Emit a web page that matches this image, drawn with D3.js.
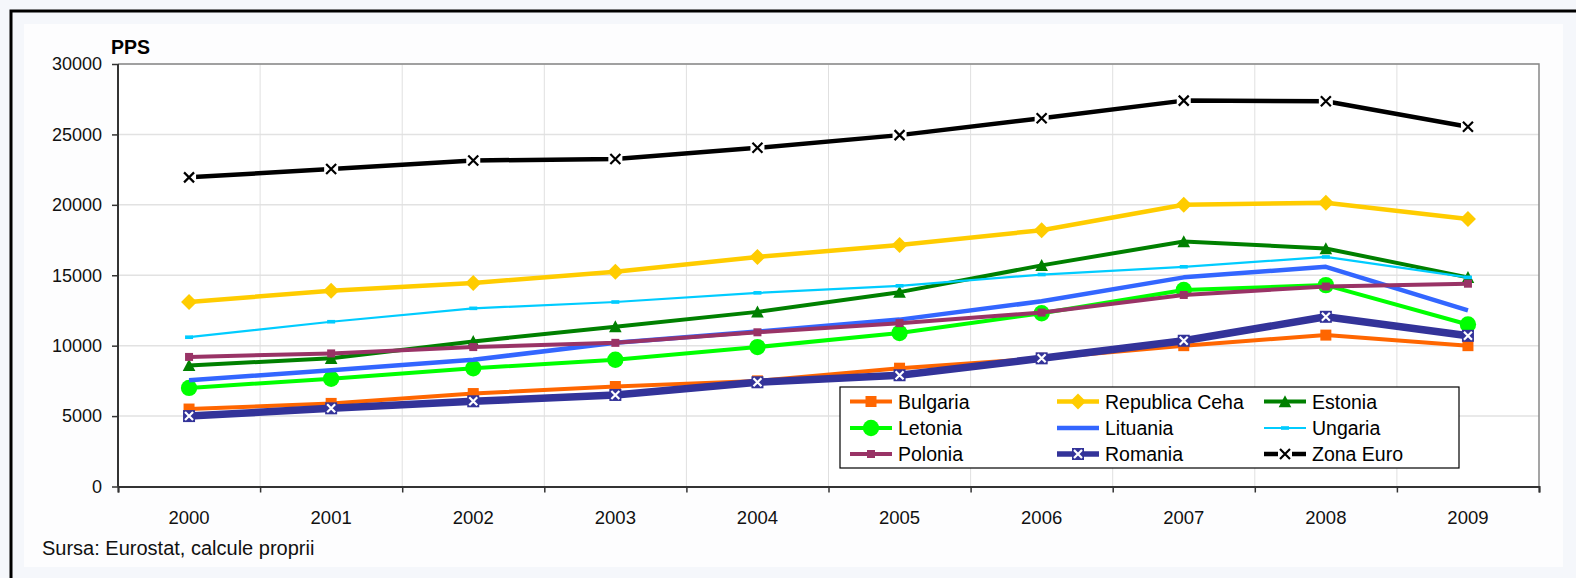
<!DOCTYPE html>
<html>
<head>
<meta charset="utf-8">
<script src="https://cdn.jsdelivr.net/npm/d3@7"></script>
<style>
  body { margin: 0; background: #f5f7fb; }
  svg { display: block; font-family: "Liberation Sans", Arial, sans-serif; }
</style>
</head>
<body>
<div id="chart"></div>
<script>
// Data (GDP per capita, PPS)
const years = ['2000', '2001', '2002', '2003', '2004', '2005', '2006', '2007', '2008', '2009']
const yTicks = [0, 5000, 10000, 15000, 20000, 25000, 30000]

const bulgaria = [5500, 5900, 6600, 7100, 7500, 8400, 9100, 10000, 10750, 10000]
const cehia = [13100, 13900, 14450, 15250, 16300, 17150, 18200, 20000, 20150, 19000]
const estonia = [8600, 9100, 10300, 11350, 12400, 13800, 15700, 17400, 16900, 14850]
const letonia = [7000, 7650, 8400, 9000, 9900, 10900, 12300, 13950, 14300, 11500]
const lituania = [7550, 8250, 9000, 10200, 11000, 11850, 13150, 14850, 15600, 12500]
const ungaria = [10600, 11700, 12650, 13100, 13750, 14250, 15050, 15600, 16300, 14850]
const polonia = [9200, 9450, 9900, 10200, 10950, 11600, 12350, 13600, 14200, 14400]
const romania = [5000, 5550, 6050, 6500, 7400, 7900, 9100, 10350, 12050, 10700]
const zonaEuro = [21950, 22550, 23150, 23250, 24050, 24950, 26150, 27400, 27350, 25550]

const names = ['Bulgaria', 'Republica Ceha', 'Estonia', 'Letonia', 'Lituania', 'Ungaria', 'Polonia', 'Romania', 'Zona Euro']

// custom marker shapes
const sq = { draw (c, s) { const h = Math.sqrt(s) / 2; c.rect(-h, -h, 2 * h, 2 * h) } }
const diamond = { draw (c, s) { const h = Math.sqrt(s) / 2; c.moveTo(0, -h); c.lineTo(h, 0); c.lineTo(0, h); c.lineTo(-h, 0); c.closePath() } }
const tri = { draw (c, s) { const h = Math.sqrt(s) / 2; c.moveTo(0, -h); c.lineTo(h, h * 0.9); c.lineTo(-h, h * 0.9); c.closePath() } }
const dash = { draw (c, s) { const h = Math.sqrt(s) / 2; c.rect(-h, -h / 2.2, 2 * h, h / 1.1) } }
const cross = { draw (c, s) { const h = Math.sqrt(s) / 2; c.moveTo(-h, -h); c.lineTo(h, h); c.moveTo(h, -h); c.lineTo(-h, h) } }

const series = [
  { name: names[0], values: bulgaria, color: '#ff6600', w: 4, shape: sq, size: 121 },
  { name: names[1], values: cehia, color: '#ffcc00', w: 4.5, shape: diamond, size: 256 },
  { name: names[2], values: estonia, color: '#008000', w: 4, shape: tri, size: 160 },
  { name: names[3], values: letonia, color: '#00ff00', w: 4, shape: d3.symbolCircle, size: 210 },
  { name: names[4], values: lituania, color: '#3366ff', w: 4.5, shape: null },
  { name: names[5], values: ungaria, color: '#00ccff', w: 2.2, shape: dash, size: 64 },
  { name: names[6], values: polonia, color: '#993366', w: 4, shape: sq, size: 64 },
  { name: names[7], values: romania, color: '#333399', w: 7.5, shape: 'romania' },
  { name: names[8], values: zonaEuro, color: '#000000', w: 4.5, shape: 'euro' }
]

const width = 1576, height = 578
const plot = { left: 118, right: 1539, top: 64, bottom: 486.5 }

const svg = d3.select('#chart').append('svg')
  .attr('width', width)
  .attr('height', height)

// frame + panel
svg.append('rect').attr('x', 0).attr('y', 0).attr('width', width).attr('height', height).attr('fill', '#f5f7fb')
svg.append('rect').attr('x', 24).attr('y', 24).attr('width', 1539).attr('height', 543).attr('fill', '#fdfdfe')
svg.append('path').attr('d', 'M11,600 V11 H1600').attr('fill', 'none').attr('stroke', '#000').attr('stroke-width', 3)

const x = d3.scaleBand().domain(years).range([plot.left, plot.right])
const xPos = d => x(d) + x.bandwidth() / 2
const xEdge = d3.scaleLinear().domain([0, years.length]).range([plot.left, plot.right])
const y = d3.scaleLinear().domain([0, 30000]).range([plot.bottom, plot.top])

svg.append('rect')
  .attr('x', plot.left).attr('y', plot.top)
  .attr('width', plot.right - plot.left).attr('height', plot.bottom - plot.top)
  .attr('fill', '#fff')

// grid
svg.append('g').selectAll('line').data(yTicks.slice(1)).enter().append('line')
  .attr('x1', plot.left).attr('x2', plot.right)
  .attr('y1', d => y(d)).attr('y2', d => y(d))
  .attr('stroke', '#e2e2e2').attr('stroke-width', 1.5)
svg.append('g').selectAll('line').data(d3.range(1, years.length)).enter().append('line')
  .attr('x1', d => xEdge(d)).attr('x2', d => xEdge(d))
  .attr('y1', plot.top).attr('y2', plot.bottom)
  .attr('stroke', '#e0e0e0').attr('stroke-width', 1)

// plot border (top/right)
svg.append('path')
  .attr('d', `M${plot.left},${plot.top} H${plot.right} V${plot.bottom}`)
  .attr('fill', 'none').attr('stroke', '#888').attr('stroke-width', 1.5)

// axes
const yAxis = d3.axisLeft(y).tickValues(yTicks).tickSize(6).tickPadding(10).tickFormat(d3.format('d'))
const gy = svg.append('g').attr('transform', `translate(${plot.left},0)`).call(yAxis)
gy.selectAll('text').attr('font-size', 18).attr('fill', '#111')

const xTicks = d3.axisBottom(xEdge).tickValues(d3.range(0, years.length + 1)).tickSize(6).tickFormat('')
svg.append('g').attr('transform', `translate(0,${plot.bottom})`).call(xTicks)
const xLabels = d3.axisBottom(x).tickSize(0).tickPadding(24)
const gx = svg.append('g').attr('transform', `translate(0,${plot.bottom})`).call(xLabels)
gx.select('.domain').remove()
gx.selectAll('text').attr('font-size', 18.5).attr('fill', '#111')

svg.selectAll('.domain').attr('stroke', '#333').attr('stroke-width', 2)
svg.selectAll('.tick line').attr('stroke', '#333').attr('stroke-width', 1.5)
gy.select('.domain').attr('d', `M0,${plot.top}V${plot.bottom}`)

svg.append('text').attr('x', 111).attr('y', 54).attr('font-size', 19.5).attr('font-weight', 'bold').text('PPS')
svg.append('text').attr('x', 42).attr('y', 555).attr('font-size', 20).attr('fill', '#111').text('Sursa: Eurostat, calcule proprii')

// marker drawing
function drawMarker (g, s) {
  if (s.shape === 'romania') {
    g.append('rect').attr('x', -6).attr('y', -6).attr('width', 12).attr('height', 12).attr('fill', s.color)
    g.append('path').attr('d', d3.symbol(cross, 64)()).attr('stroke', '#fff').attr('stroke-width', 2.2)
  } else if (s.shape === 'euro') {
    g.append('rect').attr('x', -7).attr('y', -7).attr('width', 14).attr('height', 14).attr('fill', '#fff')
    g.append('path').attr('d', d3.symbol(cross, 100)()).attr('stroke', '#000').attr('stroke-width', 2.2)
  } else if (s.shape) {
    g.append('path').attr('d', d3.symbol(s.shape, s.size)()).attr('fill', s.color)
  }
}

const line = d3.line().x((d, i) => xPos(years[i])).y(d => y(d))

series.forEach(s => {
  svg.append('path').datum(s.values)
    .attr('d', line)
    .attr('fill', 'none').attr('stroke', s.color).attr('stroke-width', s.w)
    .attr('stroke-linejoin', 'round')
  svg.append('g').selectAll('g').data(s.values).enter().append('g')
    .attr('transform', (d, i) => `translate(${xPos(years[i])},${y(d)})`)
    .each(function () { drawMarker(d3.select(this), s) })
})

// legend
const legend = svg.append('g')
legend.append('rect').attr('x', 840).attr('y', 387).attr('width', 619).attr('height', 81)
  .attr('fill', '#fff').attr('stroke', '#000').attr('stroke-width', 1.2)
const colX = [850, 1057, 1264]
const rowY = [401.5, 428, 454]
series.forEach((s, i) => {
  const lx = colX[i % 3], ly = rowY[Math.floor(i / 3)]
  const g = legend.append('g')
  g.append('line').attr('x1', lx).attr('x2', lx + 42).attr('y1', ly).attr('y2', ly)
    .attr('stroke', s.color).attr('stroke-width', Math.min(s.w, 5.5))
  const m = g.append('g').attr('transform', `translate(${lx + 21},${ly})`)
  drawMarker(m, s)
  g.append('text').attr('x', lx + 48).attr('y', ly + 7).attr('font-size', 19.5).attr('fill', '#000').text(s.name)
})
</script>
</body>
</html>
